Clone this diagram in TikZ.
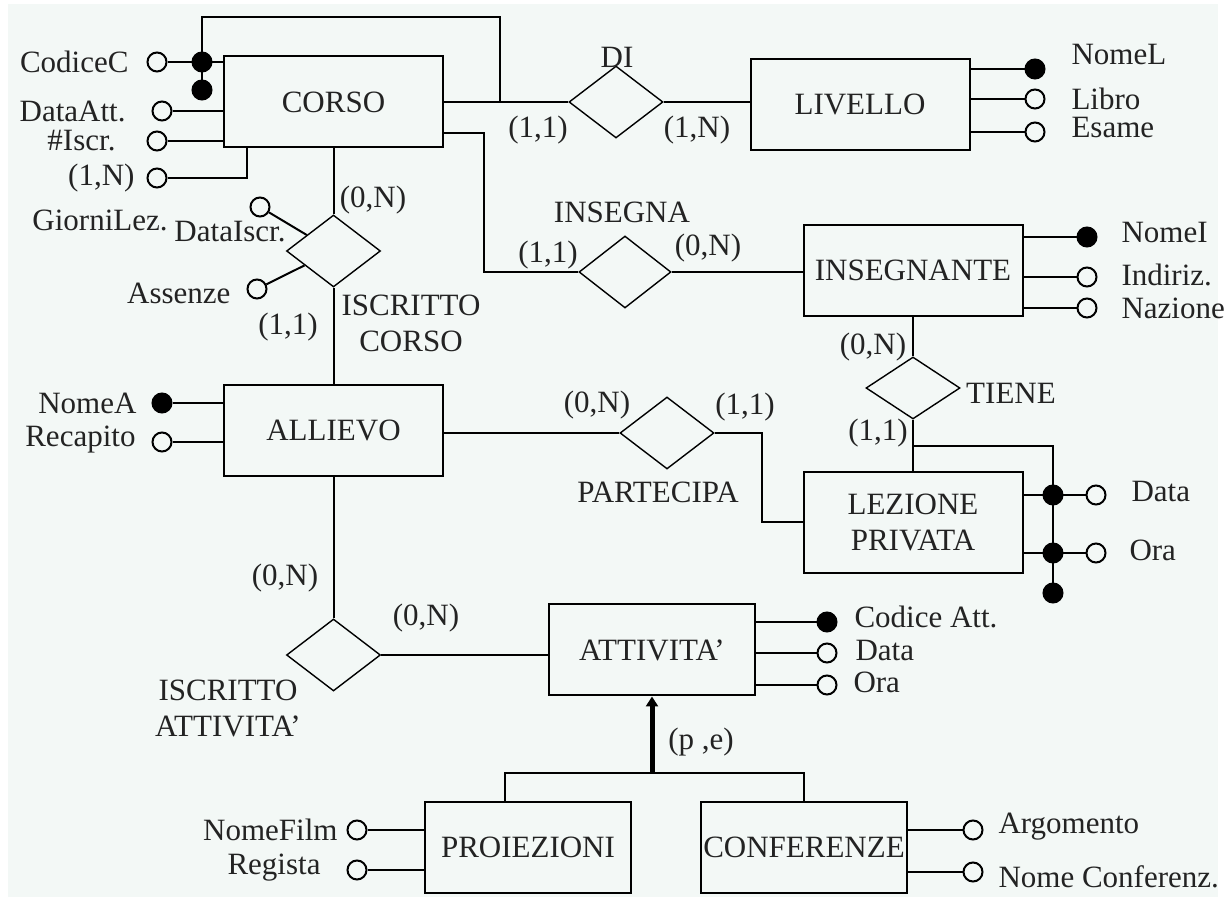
\documentclass[tikz,border=0pt]{standalone}
\usepackage{fontspec}
\setmainfont{Liberation Serif}
\definecolor{bgpale}{RGB}{243, 248, 246}
\definecolor{inkgray}{RGB}{35, 35, 35}
\usetikzlibrary{shapes.geometric, arrows.meta, positioning}

\begin{document}
\begin{tikzpicture}[x=0.5pt, y=-0.5pt, line width=1pt,
  font=\fontsize{15.5}{18}\selectfont, text=inkgray,
  entity/.style={draw, rectangle, minimum width=109.5pt, minimum height=45.5pt, align=center, inner sep=0pt},
  rel/.style={draw, diamond, line width=0.7pt, minimum width=47pt, minimum height=36pt, inner sep=0pt},
  attr/.style={draw, circle, fill=bgpale, minimum size=9.5pt, inner sep=0pt},
  keyattr/.style={attr, fill=black},
  lbl/.style={inner sep=0pt, align=center},
  isa/.style={line width=2.5pt, -{Triangle[length=5pt, width=6pt]}}]

  \useasboundingbox (0,0) rectangle (1228,897);
  \fill[bgpale] (8,4) rectangle (1218,897);

  % Entities
  \node[entity] (corso) at (333.5,102) {CORSO};
  \node[entity] (livello) at (860,104.5) {LIVELLO};
  \node[entity] (insegnante) at (913,270.5) {INSEGNANTE};
  \node[entity] (allievo) at (333.5,430.5) {ALLIEVO};
  \node[entity, minimum height=50.5pt] (lezione) at (913,522.5) {LEZIONE\\PRIVATA};
  \node[entity, minimum width=103pt] (attivita) at (652,650) {ATTIVITA'};
  \node[entity, minimum width=103pt] (proiezioni) at (528,847.5) {PROIEZIONI};
  \node[entity, minimum width=103pt] (conferenze) at (804,847.5) {CONFERENZE};

  % Relationships
  \node[rel] (di) at (616,102) {};
  \node[rel] (iscorso) at (333.5,251) {};
  \node[rel, minimum width=46pt] (insegna) at (625,272) {};
  \node[rel, minimum height=31pt] (tiene) at (913,388) {};
  \node[rel] (partecipa) at (667,433) {};
  \node[rel] (isatt) at (333.5,655) {};

  \node[lbl] (dilbl) at (617,57) {DI};
  \node[lbl] (iscorsolbl) at (411,323) {ISCRITTO\\CORSO};
  \node[lbl] (insegnalbl) at (622,212) {INSEGNA};
  \node[lbl] (tienelbl) at (1011,393) {TIENE};
  \node[lbl] (partecipalbl) at (658,492) {PARTECIPA};
  \node[lbl] (isattlbl) at (228,708) {ISCRITTO\\ATTIVITA'};

  % Connectors
  \draw (corso.east |- di) -- (di);
  \draw (di) -- (di -| livello.west);
  \draw (corso) -- (iscorso);
  \draw (iscorso) -- (allievo);
  \draw ([yshift=-15.5pt]corso.east) -- ++(40,0) |- (insegna);
  \draw (insegna) -- (insegna -| insegnante.west);
  \draw (insegnante) -- (tiene);
  \draw (tiene) -- (lezione);
  \draw (partecipa) -- (partecipa -| allievo.east);
  \draw (partecipa.east) -- ++(47,0) |- (lezione);
  \draw (allievo) -- (isatt);
  \draw (isatt) -- (isatt -| attivita.west);

  % Cardinalities
  \node[lbl] (c1) at (538,130) {(1,1)};
  \node[lbl] (c2) at (697,130) {(1,N)};
  \node[lbl] (c3) at (373,200) {(0,N)};
  \node[lbl] (c4) at (288,327) {(1,1)};
  \node[lbl] (c5) at (548,255) {(1,1)};
  \node[lbl] (c6) at (708,248) {(0,N)};
  \node[lbl] (c7) at (873,347) {(0,N)};
  \node[lbl] (c8) at (878,433) {(1,1)};
  \node[lbl] (c9) at (597,405) {(0,N)};
  \node[lbl] (c10) at (745,407) {(1,1)};
  \node[lbl] (c11) at (285,578) {(0,N)};
  \node[lbl] (c12) at (426,618) {(0,N)};

  % Generalization
  \coordinate (isj) at (652,773);
  \draw ([xshift=-11.5pt]proiezioni.north) |- (isj) -| (conferenze.north);
  \draw[isa] (isj) -- (attivita);
  \node[lbl] (pe) at (701,742) {(p ,e)};

  % CORSO attributes and external key
  \node[keyattr] (kc1) at (202,62) {};
  \node[keyattr] (kc2) at (202,90) {};
  \coordinate (kctop) at (500,17);
  \draw (kc2.center) -- (kc1.center |- kctop) -- (kctop) -- (kctop |- di);
  \node[attr] (codc) at (157,62) {};
  \draw (codc) -- (codc -| corso.west);
  \node[lbl, left=8.5pt of codc] {CodiceC};
  \node[attr] (datt) at (162,111) {};
  \draw (datt) -- (datt -| corso.west);
  \node[lbl, left=12.5pt of datt] {DataAtt.};
  \node[attr] (niscr) at (157,141) {};
  \draw (niscr) -- (niscr -| corso.west);
  \node[lbl, left=15pt of niscr] {\#Iscr.};
  \node[attr] (giorni) at (157,178) {};
  \draw (giorni) -| ([xshift=12pt]corso.south west);
  \node[lbl, left=5.5pt of giorni] {(1,N)};
  \node[lbl] (giornilbl) at (100,220) {GiorniLez.};

  % ISCRITTO CORSO attributes
  \node[attr] (dataiscr) at (260,207) {};
  \draw (dataiscr) -- (iscorso);
  \node[lbl] (dataiscrlbl) at (230,232) {DataIscr.};
  \node[attr] (assenze) at (257,289) {};
  \draw (assenze) -- (iscorso);
  \node[lbl, left=7.5pt of assenze, yshift=-2pt] {Assenze};

  % LIVELLO attributes
  \node[keyattr] (nomel) at (1035,69) {};
  \draw (nomel) -- (nomel -| livello.east);
  \node[lbl, right=12.5pt of nomel, yshift=7pt] {NomeL};
  \node[attr] (libro) at (1035,99) {};
  \draw (libro) -- (libro -| livello.east);
  \node[lbl, right=12.5pt of libro] {Libro};
  \node[attr] (esame) at (1035,132) {};
  \draw (esame) -- (esame -| livello.east);
  \node[lbl, right=12.5pt of esame, yshift=2pt] {Esame};

  % INSEGNANTE attributes
  \node[keyattr] (nomei) at (1087,237) {};
  \draw (nomei) -- (nomei -| insegnante.east);
  \node[lbl, right=11.5pt of nomei, yshift=2pt] {NomeI};
  \node[attr] (indiriz) at (1087,277) {};
  \draw (indiriz) -- (indiriz -| insegnante.east);
  \node[lbl, right=11.5pt of indiriz, yshift=1pt] {Indiriz.};
  \node[attr] (nazione) at (1087,308) {};
  \draw (nazione) -- (nazione -| insegnante.east);
  \node[lbl, right=11.5pt of nazione] {Nazione};

  % ALLIEVO attributes
  \node[keyattr] (nomea) at (162,403) {};
  \draw (nomea) -- (nomea -| allievo.west);
  \node[lbl, left=7pt of nomea] {NomeA};
  \node[attr] (recapito) at (162,442) {};
  \draw (recapito) -- (recapito -| allievo.west);
  \node[lbl, left=7.5pt of recapito, yshift=1pt] {Recapito};

  % LEZIONE PRIVATA attributes and external key
  \node[keyattr] (kl1) at (1053,495) {};
  \node[keyattr] (kl2) at (1053,553) {};
  \node[keyattr] (kl3) at (1053,593) {};
  \coordinate (tj) at (913,446);
  \draw (tj) -| (kl3.center);
  \node[attr] (ldata) at (1096,495) {};
  \draw (ldata) -- (ldata -| lezione.east);
  \node[lbl, right=12pt of ldata, yshift=1.5pt] {Data};
  \node[attr] (lora) at (1096,553) {};
  \draw (lora) -- (lora -| lezione.east);
  \node[lbl, right=11pt of lora, yshift=1.5pt] {Ora};

  % ATTIVITA' attributes
  \node[keyattr] (codatt) at (827,622) {};
  \draw (codatt) -- (codatt -| attivita.east);
  \node[lbl, right=8pt of codatt, yshift=2.5pt] {Codice Att.};
  \node[attr] (adata) at (827,653) {};
  \draw (adata) -- (adata -| attivita.east);
  \node[lbl, right=8.5pt of adata, yshift=1pt] {Data};
  \node[attr] (aora) at (827,685) {};
  \draw (aora) -- (aora -| attivita.east);
  \node[lbl, right=7.5pt of aora, yshift=1.5pt] {Ora};

  % PROIEZIONI and CONFERENZE attributes
  \node[attr] (nomefilm) at (357,830) {};
  \draw (nomefilm) -- (nomefilm -| proiezioni.west);
  \node[lbl, left=4pt of nomefilm] {NomeFilm};
  \node[attr] (regista) at (357,870) {};
  \draw (regista) -- (regista -| proiezioni.west);
  \node[lbl, left=12.5pt of regista, yshift=1pt] {Regista};
  \node[attr] (argomento) at (973,830) {};
  \draw (argomento) -- (argomento -| conferenze.east);
  \node[lbl, right=7pt of argomento, yshift=1.5pt] {Argomento};
  \node[attr] (nomeconf) at (973,872) {};
  \draw (nomeconf) -- (nomeconf -| conferenze.east);
  \node[lbl, right=7pt of nomeconf, yshift=-2.5pt] {Nome Conferenz.};
\end{tikzpicture}
\end{document}
